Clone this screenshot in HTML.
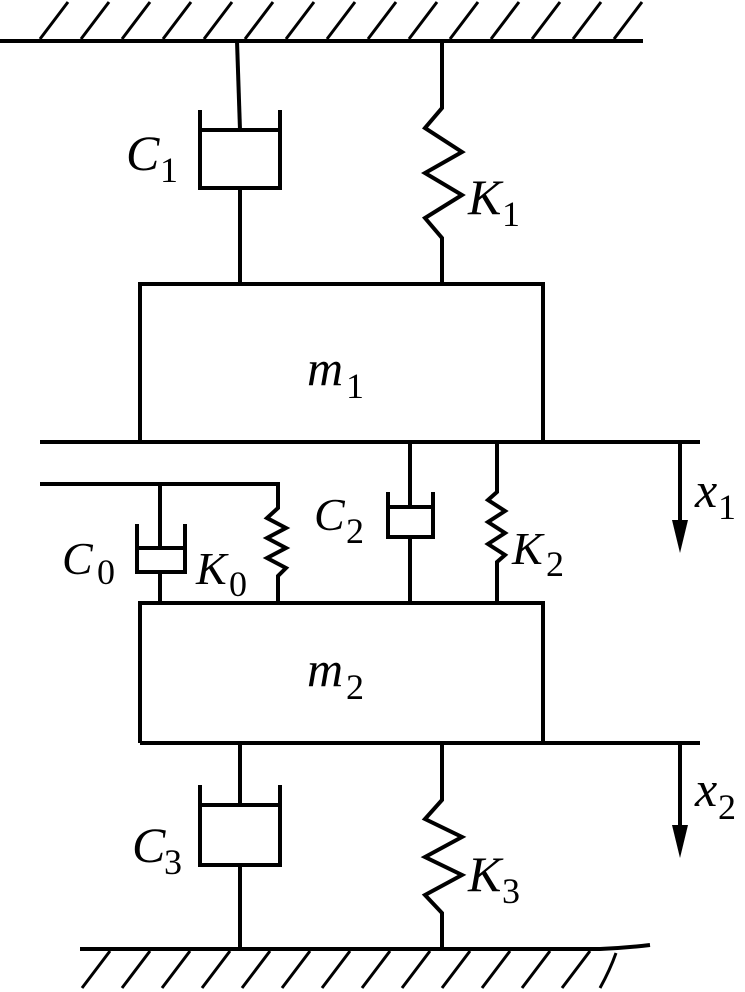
<!DOCTYPE html>
<html><head><style>body{margin:0;background:#fff}svg{display:block}text{font-family:"Liberation Serif",serif;fill:#000}</style></head><body>
<svg width="745" height="992" viewBox="0 0 745 992" xmlns="http://www.w3.org/2000/svg">
<g stroke="#000" stroke-width="4" fill="none" stroke-linejoin="miter">
<line x1="0" y1="41" x2="643" y2="41"/>
<g stroke-width="3">
<path d="M40 39 L68 2 M81 39 L109 2 M122 39 L150 2 M163 39 L191 2 M204 39 L232 2 M245 39 L273 2 M286 39 L314 2 M327 39 L355 2 M368 39 L396 2 M409 39 L437 2 M450 39 L478 2 M491 39 L519 2 M532 39 L560 2 M573 39 L601 2 M614 39 L642 2"/>
</g>
<line x1="237" y1="41" x2="240" y2="130"/>
<path d="M200 110 V188 H280 V110"/>
<line x1="200" y1="130" x2="280" y2="130"/>
<line x1="240" y1="188" x2="240" y2="283"/>
<path d="M442 41 V108 L425 128 L462 152 L425 173 L462 195 L425 218 L442 238 V283"/>
<path d="M140 440 V284 H543 V440"/>
<line x1="40" y1="442" x2="700" y2="442"/>
<line x1="680" y1="442" x2="680" y2="525"/>
<path d="M40 484 H278 V508 L267 518 L286 528 L267 538 L286 548 L267 558 L286 568 L278 576 V603"/>
<line x1="160" y1="484" x2="160" y2="548"/>
<path d="M137 524 V572 H185 V524"/>
<line x1="137" y1="548" x2="185" y2="548"/>
<line x1="160" y1="572" x2="160" y2="603"/>
<line x1="410" y1="442" x2="410" y2="507"/>
<path d="M388 492 V537 H433 V492"/>
<line x1="388" y1="507" x2="433" y2="507"/>
<line x1="410" y1="537" x2="410" y2="603"/>
<path d="M497 442 V492 L488 500 L505 511 L488 522 L505 533 L488 544 L505 555 L497 562 V603"/>
<path d="M140 743 V603 H543 V743"/>
<line x1="140" y1="743" x2="700" y2="743"/>
<line x1="680" y1="743" x2="680" y2="830"/>
<line x1="240" y1="743" x2="240" y2="805"/>
<path d="M200 785 V865 H280 V785"/>
<line x1="200" y1="805" x2="280" y2="805"/>
<line x1="240" y1="865" x2="240" y2="947"/>
<path d="M442 743 V800 L425 819 L462 837 L425 857 L462 875 L425 895 L442 913 V947"/>
<path d="M80 949 H600 Q625 948 650 945"/>
<g stroke-width="3">
<path d="M82 988 L110 951 M122 988 L150 951 M162 988 L190 951 M202 988 L230 951 M242 988 L270 951 M282 988 L310 951 M322 988 L350 951 M362 988 L390 951 M402 988 L430 951 M442 988 L470 951 M482 988 L510 951 M522 988 L550 951 M562 988 L590 951 M600 988 Q610 970 616 953"/>
</g>
</g>
<polygon points="672,520 688,520 680,553" fill="#000"/>
<polygon points="672,825 688,825 680,858" fill="#000"/>
<g font-size="50" font-style="italic">
<text x="126" y="170">C</text><text x="468" y="214">K</text>
<text x="307" y="385">m</text>
<text x="695" y="507">x</text>
<text x="62" y="574" font-size="46">C</text><text x="196" y="584" font-size="46">K</text>
<text x="314" y="530" font-size="46">C</text><text x="512" y="564" font-size="46">K</text>
<text x="307" y="686">m</text>
<text x="695" y="806">x</text>
<text x="132" y="862">C</text><text x="468" y="891">K</text>
</g>
<g font-size="36">
<text x="160" y="182">1</text><text x="502" y="226">1</text>
<text x="346" y="398">1</text><text x="718" y="519">1</text>
<text x="97" y="584">0</text><text x="229" y="596">0</text>
<text x="346" y="543">2</text><text x="546" y="576">2</text>
<text x="346" y="699">2</text><text x="718" y="819">2</text>
<text x="164" y="874">3</text><text x="502" y="903">3</text>
</g>
</svg>
</body></html>
